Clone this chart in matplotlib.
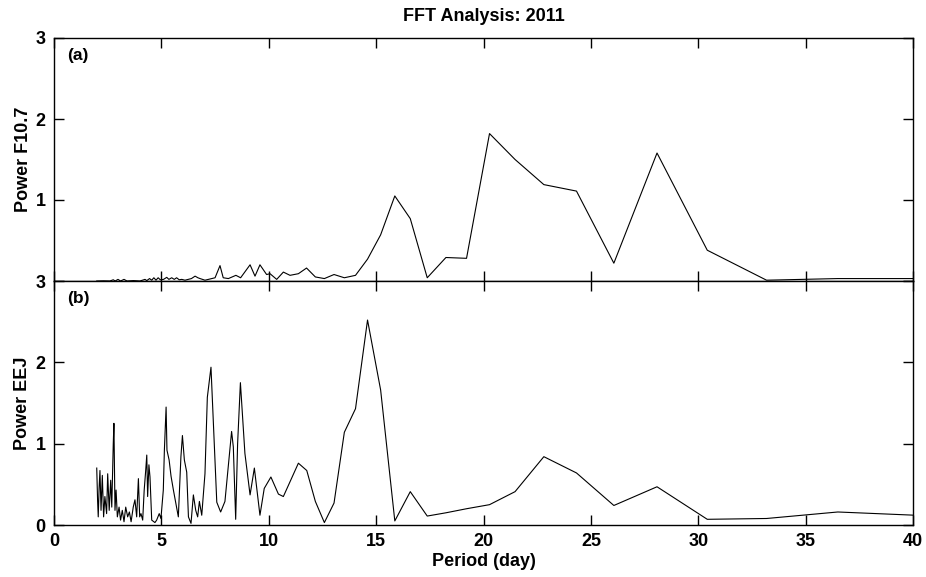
import numpy as np
import matplotlib
matplotlib.use("Agg")
import matplotlib.pyplot as plt

plt.rcParams['font.family'] = ['Liberation Sans', 'DejaVu Sans']
plt.rcParams['font.weight'] = 'bold'

# F10.7 spectrum (period in days, power)
f107_period = [1.99, 2.3, 2.6, 2.76, 2.85, 2.98, 3.1, 3.26, 3.4, 3.7, 4.0, 4.24, 4.32,
               4.45, 4.55, 4.65, 4.75, 4.85, 4.95, 5.1, 5.25, 5.35, 5.48, 5.6, 5.71,
               5.83, 5.95, 6.1, 6.25, 6.4, 6.57, 6.7, 6.8, 7.03, 7.19, 7.5, 7.73, 7.88,
               8.12, 8.47, 8.69, 9.13, 9.36, 9.59, 9.9, 10.06, 10.37, 10.68, 10.99,
               11.38, 11.76, 12.17, 12.59, 13.04, 13.52, 14.04, 14.6, 15.21, 15.87,
               16.59, 17.38, 18.25, 19.21, 20.28, 21.47, 22.81, 24.33, 26.07, 28.08,
               30.42, 33.18, 36.5, 40.56]
f107_power = [0.0, 0.002, 0.0, 0.015, 0.0, 0.02, 0.0, 0.02, 0.0, 0.005, 0.0, 0.02, 0.005,
              0.03, 0.01, 0.04, 0.01, 0.04, 0.015, 0.02, 0.045, 0.02, 0.04, 0.02, 0.04,
              0.015, 0.02, 0.01, 0.02, 0.03, 0.06, 0.04, 0.03, 0.01, 0.02, 0.04, 0.19, 0.04,
              0.03, 0.07, 0.04, 0.2, 0.06, 0.2, 0.08, 0.09, 0.02, 0.11, 0.07,
              0.09, 0.16, 0.05, 0.03, 0.08, 0.04, 0.07, 0.27, 0.57, 1.05,
              0.77, 0.04, 0.29, 0.28, 1.82, 1.5, 1.19, 1.11, 0.22, 1.58,
              0.38, 0.01, 0.03, 0.03]

# EEJ spectrum (period in days, power)
eej_period = [1.99, 2.03, 2.06, 2.1, 2.14, 2.19, 2.22, 2.25, 2.31, 2.37, 2.45, 2.5, 2.57,
              2.64, 2.69, 2.76, 2.79, 2.84, 2.89, 2.95, 3.03, 3.1, 3.18, 3.26, 3.34,
              3.43, 3.51, 3.59, 3.69, 3.77, 3.85, 3.93, 3.99, 4.05, 4.13, 4.2, 4.27,
              4.32, 4.36, 4.42, 4.47, 4.55, 4.7, 4.78, 4.9, 4.98, 5.09, 5.14, 5.22,
              5.26, 5.36, 5.45, 5.56, 5.79, 5.91, 5.98, 6.07, 6.18, 6.26, 6.38, 6.49,
              6.6, 6.69, 6.77, 6.88, 7.03, 7.14, 7.31, 7.58, 7.76, 7.96, 8.27, 8.35,
              8.46, 8.55, 8.68, 8.89, 9.13, 9.33, 9.59, 9.79, 10.1, 10.45, 10.68,
              11.38, 11.77, 12.17, 12.59, 13.04, 13.52, 14.04, 14.6, 15.21, 15.87,
              16.59, 17.38, 18.25, 19.21, 20.28, 21.47, 22.81, 24.33, 26.07, 28.08,
              30.42, 33.18, 36.5, 40.56]
eej_power = [0.70, 0.3, 0.10, 0.45, 0.67, 0.18, 0.4, 0.61, 0.10, 0.35, 0.14, 0.63, 0.18,
             0.55, 0.22, 1.0, 1.25, 0.18, 0.43, 0.10, 0.22, 0.06, 0.18, 0.04, 0.22,
             0.10, 0.16, 0.04, 0.22, 0.31, 0.10, 0.57, 0.10, 0.14, 0.06, 0.43, 0.67,
             0.86, 0.35, 0.74, 0.59, 0.06, 0.03, 0.06, 0.14, 0.08, 0.43, 0.92, 1.45,
             0.92, 0.80, 0.6, 0.43, 0.10, 0.84, 1.10, 0.80, 0.65, 0.10, 0.02, 0.37,
             0.18, 0.10, 0.29, 0.12, 0.63, 1.57, 1.94, 0.28, 0.16, 0.29, 1.15, 0.96,
             0.07, 1.0, 1.75, 0.88, 0.37, 0.70, 0.12, 0.45, 0.59, 0.38, 0.35,
             0.76, 0.67, 0.29, 0.03, 0.27, 1.14, 1.43, 2.52, 1.66, 0.05,
             0.41, 0.11, 0.15, 0.2, 0.25, 0.41, 0.84, 0.64, 0.24, 0.47,
             0.07, 0.08, 0.16, 0.115]

x_ticks = [0, 5, 10, 15, 20, 25, 30, 35, 40]
y_ticks = [0, 1, 2, 3]

fig = plt.figure(figsize=(9.26, 5.77), dpi=100)
ax1 = fig.add_axes([54 / 926, 1 - 281 / 577, 859 / 926, 243 / 577])
ax2 = fig.add_axes([54 / 926, 1 - 525 / 577, 859 / 926, 244 / 577])

for ax in (ax1, ax2):
    ax.set_xlim(0, 40)
    ax.set_ylim(0, 3)
    ax.set_xticks(x_ticks)
    ax.set_yticks(y_ticks)
    ax.tick_params(direction='in', length=7, width=1, top=True, right=True,
                   labelsize=13, pad=6)
    for sp in ax.spines.values():
        sp.set_linewidth(1)

ax1.plot(f107_period, f107_power, color='black', lw=0.8)
ax1.set_xticklabels([])
ax1.set_yticklabels(['', '1', '2', '3'], fontweight='bold')
ax1.set_ylabel('Power F10.7', fontsize=13, fontweight='bold', labelpad=3)
ax1.set_title('FFT Analysis: 2011', fontsize=13, fontweight='bold', pad=12)
ax1.text(0.015, 0.91, '(a)', transform=ax1.transAxes, fontsize=12.5, fontweight='bold')

ax2.plot(eej_period, eej_power, color='black', lw=0.8)
ax2.set_xticklabels([str(t) for t in x_ticks], fontweight='bold')
ax2.set_yticklabels([str(t) for t in y_ticks], fontweight='bold')
ax2.set_ylabel('Power EEJ', fontsize=13, fontweight='bold', labelpad=3)
ax2.set_xlabel('Period (day)', fontsize=13, fontweight='bold', labelpad=2)
ax2.text(0.015, 0.91, '(b)', transform=ax2.transAxes, fontsize=12.5, fontweight='bold')

fig.savefig('out.png', dpi=100)
